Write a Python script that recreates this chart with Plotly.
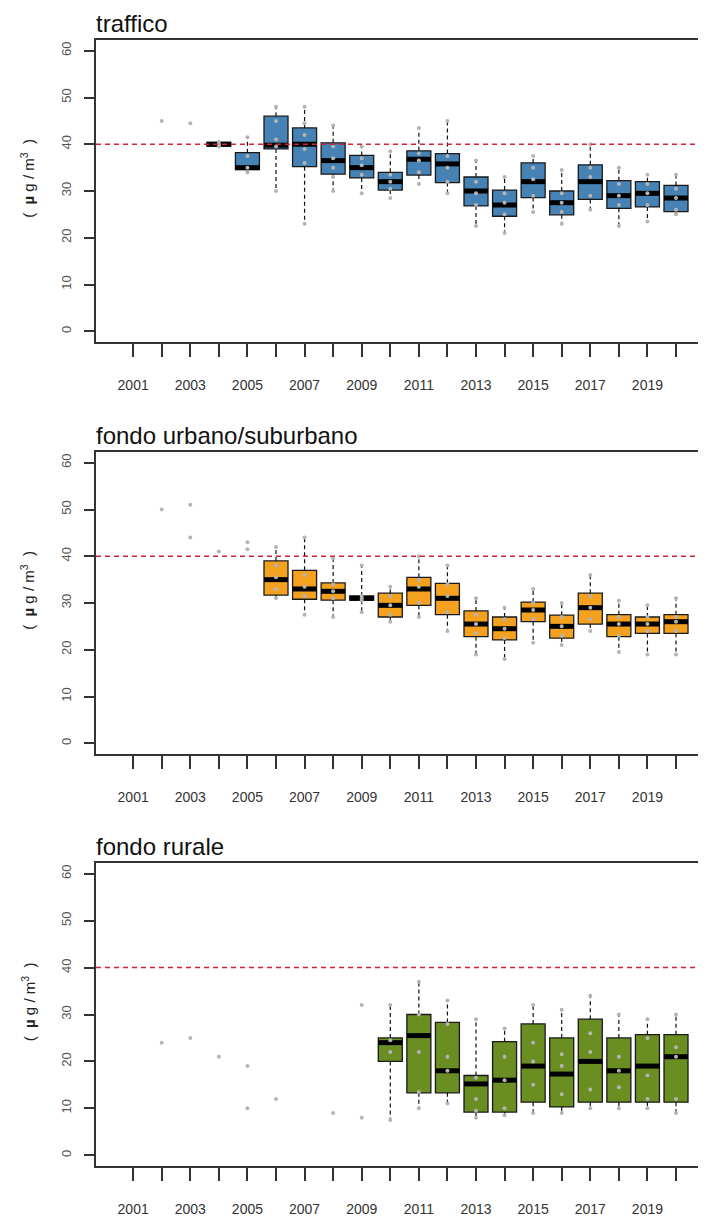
import plotly.graph_objects as go

# ---------------- data ----------------
YEARS = list(range(2001, 2021))
TICK_TEXT = [str(y) if y % 2 == 1 else "" for y in YEARS]
Y_TICKS = [0, 10, 20, 30, 40, 50, 60]
LIMIT = 40  # limite annuale NO2

PANEL_TITLES = ["traffico", "fondo urbano/suburbano", "fondo rurale"]
FILL_COLORS = ["#4682B4", "#F3A11E", "#6B8E23"]

N = None
# traffico
t_q1 = [N, N, N, 39.6, 34.6, 39.0, 35.2, 33.6, 32.8, 30.2, 33.4, 31.8, 26.8, 24.6, 28.6, 24.9, 28.2, 26.3, 26.6, 25.6]
t_med = [N, N, N, 40.0, 35.0, 39.8, 40.0, 36.5, 35.0, 32.0, 36.8, 35.8, 30.0, 27.0, 32.0, 27.5, 32.0, 29.0, 29.5, 28.5]
t_q3 = [N, N, N, 40.4, 38.2, 46.0, 43.5, 40.3, 37.6, 34.0, 38.6, 38.0, 33.0, 30.2, 36.0, 30.0, 35.6, 32.2, 32.0, 31.2]
t_lo = [N, N, N, 39.4, 34.0, 30.0, 23.0, 30.0, 29.5, 28.5, 31.5, 29.5, 22.5, 21.0, 25.5, 23.0, 26.0, 22.5, 23.5, 25.0]
t_hi = [N, N, N, 40.6, 41.5, 48.0, 48.0, 44.0, 39.5, 38.5, 43.5, 45.0, 36.5, 33.0, 37.5, 34.5, 40.0, 35.0, 33.5, 33.5]
t_pts = [
    [], [45.0], [44.5], [40.5, 40.0, 39.5], [41.5, 37.5, 35.0, 34.0],
    [48.0, 45.0, 41.0, 39.5, 30.0], [48.0, 44.5, 42.0, 39.0, 36.0, 23.0],
    [44.0, 39.5, 37.0, 35.0, 33.0, 30.0], [39.5, 37.0, 35.5, 33.5, 29.5],
    [38.5, 33.5, 32.0, 30.5, 28.5], [43.5, 38.0, 36.5, 34.0, 31.5],
    [45.0, 37.5, 35.0, 32.0, 29.5], [36.5, 32.0, 29.5, 27.0, 22.5],
    [33.0, 29.5, 27.5, 25.0, 21.0], [37.5, 35.0, 32.5, 29.0, 25.5],
    [34.5, 29.5, 27.5, 25.5, 23.0], [40.0, 35.0, 33.0, 29.0, 26.0],
    [35.0, 31.5, 29.0, 27.0, 22.5], [33.5, 31.5, 29.5, 27.0, 23.5],
    [33.5, 30.5, 28.5, 26.0, 25.0],
]
# fondo urbano/suburbano
u_q1 = [N, N, N, N, N, 31.7, 30.8, 30.6, 30.6, 27.0, 29.5, 27.5, 22.8, 22.1, 26.0, 22.5, 25.5, 22.8, 23.5, 23.5]
u_med = [N, N, N, N, N, 35.0, 33.0, 32.5, 31.0, 29.5, 33.0, 31.0, 25.5, 24.5, 28.5, 25.0, 29.0, 25.5, 25.5, 26.0]
u_q3 = [N, N, N, N, N, 39.0, 37.0, 34.3, 31.5, 32.1, 35.5, 34.2, 28.3, 27.0, 30.2, 27.4, 32.1, 27.5, 27.0, 27.5]
u_lo = [N, N, N, N, N, 31.0, 27.5, 27.0, 28.0, 26.0, 27.0, 24.0, 19.0, 18.0, 21.5, 21.0, 24.0, 19.5, 19.0, 19.0]
u_hi = [N, N, N, N, N, 42.0, 44.0, 39.5, 38.0, 33.5, 40.0, 38.0, 31.0, 29.0, 33.0, 30.0, 36.0, 30.5, 29.5, 31.0]
u_pts = [
    [], [50.0], [51.0, 44.0], [41.0], [43.0, 41.5],
    [42.0, 38.0, 35.5, 33.0, 31.0], [44.0, 36.0, 33.5, 31.5, 27.5],
    [39.5, 34.0, 32.5, 31.0, 27.0], [38.0, 31.5, 31.0, 30.5, 28.0],
    [33.5, 31.5, 29.5, 27.5, 26.0], [40.0, 35.0, 33.5, 30.0, 27.0],
    [38.0, 34.0, 31.5, 28.0, 24.0], [31.0, 27.5, 25.5, 23.5, 19.0],
    [29.0, 26.5, 24.5, 22.5, 18.0], [33.0, 30.0, 28.5, 26.5, 21.5],
    [30.0, 27.0, 25.0, 23.0, 21.0], [36.0, 31.5, 29.0, 26.5, 24.0],
    [30.5, 27.0, 25.5, 23.0, 19.5], [29.5, 27.0, 25.5, 24.0, 19.0],
    [31.0, 27.0, 26.0, 24.0, 19.0],
]
# fondo rurale
r_q1 = [N, N, N, N, N, N, N, N, N, 20.0, 13.3, 13.3, 9.2, 9.2, 11.3, 10.3, 11.3, 11.3, 11.3, 11.3]
r_med = [N, N, N, N, N, N, N, N, N, 24.0, 25.5, 18.0, 15.2, 16.0, 19.0, 17.3, 20.0, 18.0, 19.0, 21.0]
r_q3 = [N, N, N, N, N, N, N, N, N, 25.0, 30.0, 28.3, 17.0, 24.2, 28.0, 25.0, 29.0, 25.0, 25.7, 25.7]
r_lo = [N, N, N, N, N, N, N, N, N, 7.5, 10.0, 11.0, 8.0, 8.5, 9.0, 9.0, 10.0, 10.0, 10.0, 9.0]
r_hi = [N, N, N, N, N, N, N, N, N, 32.0, 37.0, 33.0, 29.0, 27.0, 32.0, 31.0, 34.0, 30.0, 29.0, 30.0]
r_pts = [
    [], [24.0], [25.0], [21.0], [19.0, 10.0], [12.0], [], [9.0], [32.0, 8.0],
    [32.0, 24.5, 22.0, 7.5], [37.0, 30.0, 22.0, 13.5, 10.0],
    [33.0, 28.0, 21.0, 18.0, 11.0], [29.0, 16.5, 12.0, 9.5, 8.0],
    [27.0, 21.0, 16.0, 10.0, 8.5], [32.0, 24.0, 20.0, 15.0, 9.0],
    [31.0, 21.5, 19.0, 13.0, 9.0], [34.0, 26.0, 22.0, 14.0, 10.0],
    [30.0, 21.0, 18.0, 14.5, 10.0], [29.0, 25.0, 17.0, 12.0, 10.0],
    [30.0, 23.0, 21.0, 12.0, 9.0],
]

PANELS = [
    (t_q1, t_med, t_q3, t_lo, t_hi, t_pts),
    (u_q1, u_med, u_q3, u_lo, u_hi, u_pts),
    (r_q1, r_med, r_q3, r_lo, r_hi, r_pts),
]

# ---------------- layout constants ----------------
W, H = 706, 1220
OFF = 8  # page body margin of the browser
BOX_W = 0.84
X_RANGE = [1999.7, 2021.33]
Y_RANGE = [-2.3, 62.3]
PLOT_LEFT = (96 - OFF) / W
PANEL_PX = [(40, 342), (452, 754), (863, 1166)]  # top/bottom pixel of each panel
FONT = "Liberation Sans, Arial, sans-serif"


def px_y(p):
    return 1 - (p - OFF) / H


fig = go.Figure()
layout = {}
annotations = []
shapes = []

for i, (q1, med, q3, lo, hi, pts) in enumerate(PANELS):
    xa = "x" if i == 0 else f"x{i+1}"
    ya = "y" if i == 0 else f"y{i+1}"
    idx = [k for k in range(len(YEARS)) if q1[k] is not None]
    bx = [YEARS[k] for k in idx]

    # whiskers (dashed)
    wx, wy = [], []
    for k in idx:
        wx += [YEARS[k], YEARS[k], None, YEARS[k], YEARS[k], None]
        wy += [q3[k], hi[k], None, q1[k], lo[k], None]
    fig.add_trace(go.Scatter(x=wx, y=wy, mode="lines", xaxis=xa, yaxis=ya,
                             line=dict(color="#111111", width=1.2, dash="4px,3px"),
                             showlegend=False, hoverinfo="skip"))

    # boxes
    fig.add_trace(go.Box(
        x=bx, q1=[q1[k] for k in idx], median=[med[k] for k in idx],
        q3=[q3[k] for k in idx], lowerfence=[q1[k] for k in idx],
        upperfence=[q3[k] for k in idx], width=BOX_W,
        fillcolor=FILL_COLORS[i], line=dict(color="#1a1a1a", width=1.3),
        xaxis=xa, yaxis=ya, showlegend=False, whiskerwidth=0,
    ))

    # thick medians
    mx, my = [], []
    for k in idx:
        mx += [YEARS[k] - BOX_W / 2, YEARS[k] + BOX_W / 2, None]
        my += [med[k], med[k], None]
    fig.add_trace(go.Scatter(x=mx, y=my, mode="lines", xaxis=xa, yaxis=ya,
                             line=dict(color="#000000", width=5),
                             showlegend=False, hoverinfo="skip"))

    # station points
    px, py = [], []
    for k, vals in enumerate(pts):
        for v in vals:
            px.append(YEARS[k])
            py.append(v)
    fig.add_trace(go.Scatter(x=px, y=py, mode="markers", xaxis=xa, yaxis=ya,
                             marker=dict(color="#b4b4b4", size=4),
                             showlegend=False))

    top_px, bot_px = PANEL_PX[i]
    dom = [px_y(bot_px), px_y(top_px)]
    xkey = "xaxis" if i == 0 else f"xaxis{i+1}"
    ykey = "yaxis" if i == 0 else f"yaxis{i+1}"
    layout[xkey] = dict(
        domain=[PLOT_LEFT, 1], range=X_RANGE, anchor=ya,
        tickmode="array", tickvals=YEARS, ticktext=TICK_TEXT,
        ticks="outside", ticklen=13, tickwidth=1.6, tickcolor="#333333",
        showline=True, linecolor="#333333", linewidth=2, mirror=True,
        showgrid=False, zeroline=False,
        tickfont=dict(family=FONT, size=14, color="#333333"),
        ticklabelstandoff=16,
    )
    layout[ykey] = dict(
        domain=dom, range=Y_RANGE, anchor=xa,
        tickmode="array", tickvals=Y_TICKS,
        ticks="outside", ticklen=10, tickwidth=1.6, tickcolor="#333333",
        showline=True, linecolor="#333333", linewidth=2,
        showgrid=False, zeroline=False, tickangle=-90,
        tickfont=dict(family=FONT, size=13, color="#555555"),
        ticklabelstandoff=8,
    )
    shapes.append(dict(type="line", xref=f"{xa} domain", x0=0, x1=1,
                       yref=ya, y0=LIMIT, y1=LIMIT, layer="above",
                       line=dict(color="#D2233A", width=1.5, dash="5px,4px")))
    annotations.append(dict(text=PANEL_TITLES[i], xref="paper", yref="paper",
                            x=PLOT_LEFT, y=dom[1], xanchor="left", yanchor="bottom",
                            xshift=-2, yshift=1,
                            showarrow=False, font=dict(family=FONT, size=24, color="#111111")))
    annotations.append(dict(text="(  <b>µ</b> g / m<sup>3</sup>  )", xref="paper", yref="paper",
                            x=(28 - OFF) / W, y=(dom[0] + dom[1]) / 2 + 0.01,
                            xanchor="center", yanchor="middle",
                            textangle=-90, showarrow=False,
                            font=dict(family=FONT, size=15, color="#222222")))

fig.update_layout(
    width=W, height=H, margin=dict(l=0, r=0, t=0, b=0),
    paper_bgcolor="white", plot_bgcolor="white",
    annotations=annotations, shapes=shapes, showlegend=False,
    **layout,
)

fig.write_html("out.html")
